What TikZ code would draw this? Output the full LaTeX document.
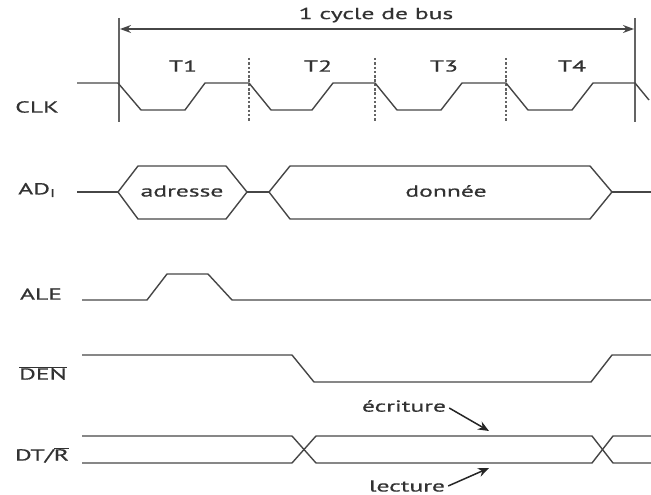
\documentclass[tikz,border=0pt]{standalone}
\usepackage{fontspec}
\setmainfont[FakeStretch=1.6,FakeBold=0.6]{PT Sans}
\usetikzlibrary{arrows.meta}
\definecolor{lc}{RGB}{70,70,70}
\definecolor{tc}{RGB}{50,50,50}
\definecolor{vc}{RGB}{100,100,100}
\tikzset{
  wave/.style={draw=lc, line width=1.4pt, line join=miter},
  lbl/.style={text=tc, font=\fontsize{16}{18}\selectfont, inner sep=0pt},
  sig/.style={lbl},
  marker/.style={draw=vc, line width=2.2pt},
  tick/.style={draw=vc, line width=1.6pt, dash pattern=on 2.5pt off 1.8pt},
  pointer/.style={draw=black!85, line width=1.5pt, -{Stealth[length=11pt,width=9pt]}}
}
\begin{document}
\begin{tikzpicture}[x=1pt,y=-1pt]
\useasboundingbox (0,0) rectangle (651,495);
% signal names
\node[sig] (nclk) at (37,107) {CLK};
\node[sig] (nad) at (37,190) {AD\textsubscript{I}};
\node[sig] (nale) at (41,294) {ALE};
\node[sig] (nden) at (43,373) {$\overline{\mbox{DEN}}$};
\node[sig] (ndt) at (42,455) {DT/$\overline{\mbox{R}}$};
% cycle markers
\coordinate (vl1) at (119,18); \coordinate (vl2) at (119,122);
\coordinate (vr1) at (635,18); \coordinate (vr2) at (635,122);
\draw[marker] (vl1) -- (vl2);
\draw[marker] (vr1) -- (vr2);
\coordinate (al) at (120,29); \coordinate (ar) at (634,29);
\draw[draw=lc, line width=1.3pt, {Stealth[length=11pt,width=8pt]}-{Stealth[length=11pt,width=8pt]}] (al) -- (ar);
\node[lbl] (cyc) at (376,15) {1 cycle de bus};
\foreach \x in {249,375,506} \draw[tick] (\x,58) -- (\x,122);
\node[lbl] (t1) at (183,66) {T1};
\node[lbl] (t2) at (318,66) {T2};
\node[lbl] (t3) at (444,66) {T3};
\node[lbl] (t4) at (572,66) {T4};
% CLK
\draw[wave] (77,83) -- (118,83) -- (141,110) -- (185,110) -- (205,83) -- (249,83) -- (271,110) -- (312,110) -- (333,83)
  -- (375,83) -- (397,110) -- (441,110) -- (462,83) -- (506,83) -- (528,110) -- (572,110) -- (593,83) -- (635,83) -- (649,100);
% AD
\draw[wave] (77,192) -- (118,192);
\draw[wave] (118,192) -- (138,166) -- (226,166) -- (247,192) -- (226,219) -- (138,219) -- cycle;
\draw[wave] (247,192) -- (269,192);
\draw[wave] (269,192) -- (290,166) -- (590,166) -- (612,192) -- (590,219) -- (290,219) -- cycle;
\draw[wave] (612,192) -- (651,192);
\node[lbl] (adr) at (182,191) {adresse};
\node[lbl] (don) at (446,191) {donnée};
% ALE
\draw[wave] (82,300) -- (147,300) -- (167,274) -- (208,274) -- (232,300) -- (651,300);
% DEN
\draw[wave] (82,355) -- (292,355) -- (314,382) -- (591,382) -- (612,355) -- (651,355);
% DT/R
\draw[wave] (82,436) -- (292,436) -- (316,463) -- (592,463) -- (613,436) -- (651,436);
\draw[wave] (82,463) -- (292,463) -- (316,436) -- (592,436) -- (613,463) -- (651,463);
\node[lbl] (ecr) at (404,406) {écriture};
\node[lbl] (lec) at (407,486) {lecture};
\coordinate (pe) at (489,431);
\coordinate (pl) at (489,468);
\draw[pointer] (ecr.east) ++(3,2) -- (pe);
\draw[pointer] (lec.east) ++(3,0) -- (pl);
\end{tikzpicture}
\end{document}
